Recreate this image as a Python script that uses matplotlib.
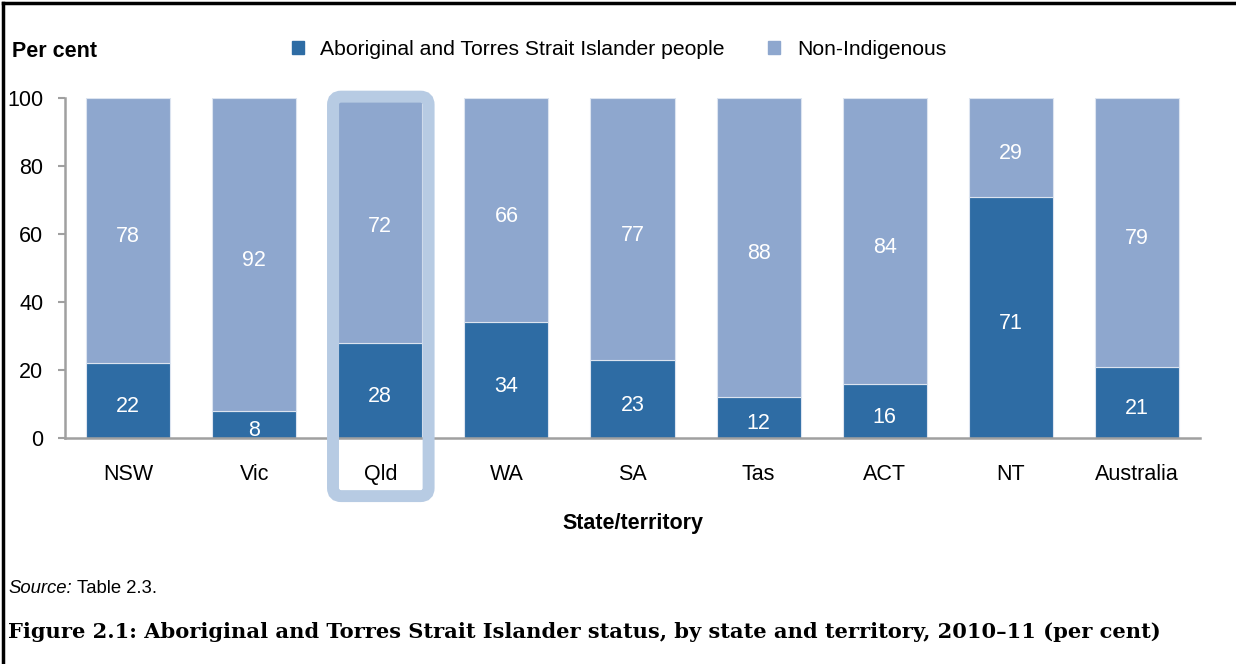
import matplotlib
matplotlib.use("Agg")
from matplotlib import pyplot as plt
from matplotlib.patches import Patch, FancyBboxPatch
import numpy as np

plt.rcParams['font.family'] = ['Liberation Sans', 'DejaVu Sans']

states = ['NSW', 'Vic', 'Qld', 'WA', 'SA', 'Tas', 'ACT', 'NT', 'Australia']
indigenous = [22, 8, 28, 34, 23, 12, 16, 71, 21]
non_indigenous = [78, 92, 72, 66, 77, 88, 84, 29, 79]

dark = '#2E6CA4'
light = '#8EA7CE'
box_col = '#B7CBE3'
grey = '#A0A0A0'
fs = 15.5

fig = plt.figure(figsize=(12.36, 6.64), dpi=100)
ax = fig.add_axes([0.0526, 0.3404, 0.9183, 0.512])

x = np.arange(len(states))
w = 0.667
ax.bar(x, indigenous, w, color=dark, edgecolor='#DCE4F0', linewidth=0.8, zorder=2)
ax.bar(x, non_indigenous, w, bottom=indigenous, color=light, edgecolor='#DCE4F0',
       linewidth=0.8, zorder=2)

for i in range(len(states)):
    ax.annotate(str(indigenous[i]), (x[i], indigenous[i] / 2), xytext=(0, -4.5),
                textcoords='offset points', ha='center', va='center',
                color='white', fontsize=fs, zorder=5)
    ax.annotate(str(non_indigenous[i]), (x[i], indigenous[i] + non_indigenous[i] / 2),
                xytext=(0, -4.5), textcoords='offset points', ha='center',
                va='center', color='white', fontsize=fs, zorder=5)

ax.set_xlim(-0.5, len(states) - 0.5)
ax.set_ylim(0, 100)
ax.set_yticks([0, 20, 40, 60, 80, 100])
ax.set_xticks(x)
ax.set_xticklabels(states)
ax.tick_params(axis='y', length=5, width=1.5, color=grey, labelsize=fs, pad=10.5)
ax.tick_params(axis='x', length=0, labelsize=fs, pad=18.5)
for s in ['top', 'right']:
    ax.spines[s].set_visible(False)
for s in ['left', 'bottom']:
    ax.spines[s].set_color(grey)
    ax.spines[s].set_linewidth(1.8)
ax.spines['bottom'].set_zorder(3)
ax.set_xlabel('State/territory', fontsize=fs, fontweight='bold', labelpad=20.5)

# highlight box round Qld
px_x = 1 / 126.1
px_y = 1 / 3.4
box = FancyBboxPatch((1.625, -17.1), 0.758, 117.5,
                     boxstyle='round,pad=0,rounding_size=0.065',
                     mutation_aspect=px_y / px_x,
                     facecolor='none', edgecolor=box_col, linewidth=8.6,
                     transform=ax.transData, clip_on=False, zorder=4)
ax.add_patch(box)

fig.text(0.0097, 0.923, 'Per cent', fontsize=fs, fontweight='bold', va='center')

handles = [Patch(color=dark, label='Aboriginal and Torres Strait Islander people'),
           Patch(color=light, label='Non-Indigenous')]
fig.legend(handles=handles, loc='center', bbox_to_anchor=(0.5008, 0.925), ncol=2,
           frameon=False, fontsize=15.2, handlelength=0.55, handleheight=0.55,
           columnspacing=2.05, handletextpad=0.8)

src = fig.text(0.0065, 0.113, 'Source:', fontsize=13.3, style='italic', va='center')
fig.canvas.draw()
bb = src.get_window_extent().transformed(fig.transFigure.inverted())
fig.text(bb.x1 + 0.004, 0.113, 'Table 2.3.', fontsize=13.3, va='center')
fig.text(0.0065, 0.048,
         'Figure 2.1: Aboriginal and Torres Strait Islander status, by state and territory, 2010\u201311 (per cent)',
         fontsize=15.13, fontweight='bold', family='DejaVu Serif', va='center')

# frame lines left and top
fig.add_artist(plt.Line2D([0.0028, 0.0028], [0, 0.995], color='black', lw=2.5,
                          transform=fig.transFigure))
fig.add_artist(plt.Line2D([0.0028, 1], [0.995, 0.995], color='black', lw=2.5,
                          transform=fig.transFigure))

fig.savefig('out.png', dpi=100)
